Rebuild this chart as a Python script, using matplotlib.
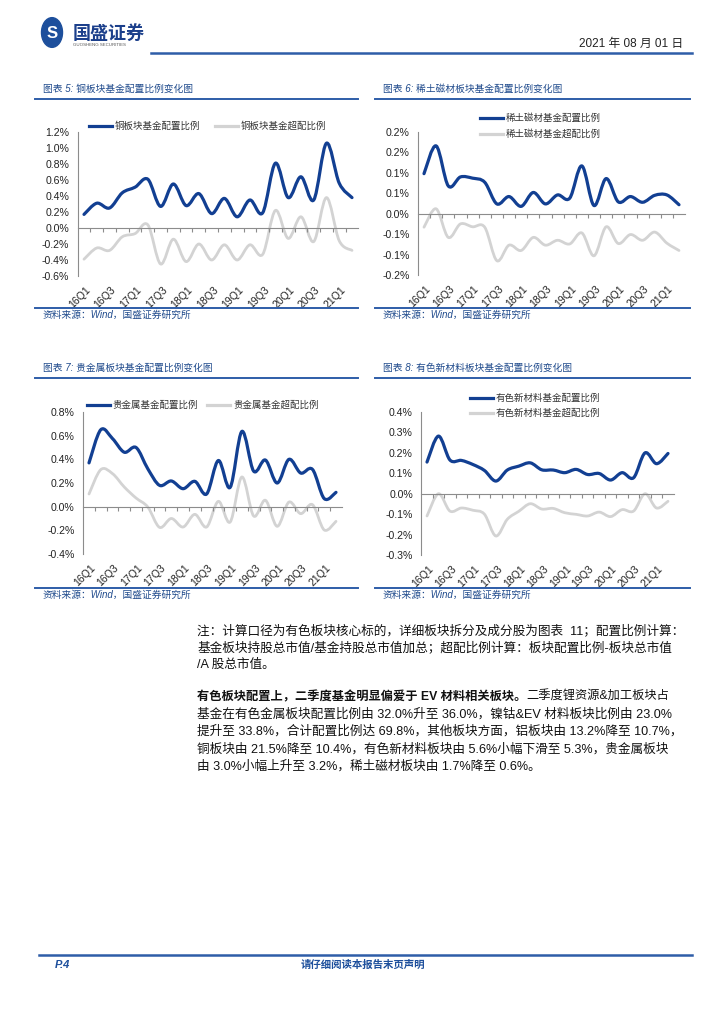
import numpy as np
import matplotlib
matplotlib.use("Agg")
import matplotlib.pyplot as plt
from matplotlib.path import Path
from matplotlib.patches import PathPatch, Circle
from matplotlib.lines import Line2D

plt.rcParams['font.family'] = ['Liberation Sans', 'Noto Sans CJK SC', 'DejaVu Sans']

## data (unit = %)
quarters = ['16Q1', '16Q2', '16Q3', '16Q4', '17Q1', '17Q2', '17Q3', '17Q4',
            '18Q1', '18Q2', '18Q3', '18Q4', '19Q1', '19Q2', '19Q3', '19Q4',
            '20Q1', '20Q2', '20Q3', '20Q4', '21Q1', '21Q2']

copper_alloc = [0.17, 0.31, 0.25, 0.44, 0.51, 0.61, 0.27, 0.55, 0.28, 0.43, 0.18,
                0.37, 0.14, 0.35, 0.19, 0.81, 0.38, 0.64, 0.35, 1.06, 0.56, 0.38]
copper_over = [-0.39, -0.25, -0.28, -0.11, -0.07, 0.04, -0.45, -0.14, -0.42, -0.20, -0.40,
               -0.21, -0.40, -0.21, -0.33, 0.22, -0.13, 0.14, -0.17, 0.38, -0.16, -0.28]

rare_alloc = [0.098, 0.166, 0.068, 0.090, 0.087, 0.077, 0.024, 0.042, 0.018, 0.052, 0.024,
              0.046, 0.038, 0.117, 0.020, 0.086, 0.029, 0.042, 0.028, 0.045, 0.046, 0.022]
rare_over = [-0.033, 0.012, -0.058, -0.025, -0.032, -0.033, -0.115, -0.077, -0.090, -0.058, -0.077,
             -0.065, -0.074, -0.047, -0.103, -0.032, -0.073, -0.051, -0.065, -0.045, -0.072, -0.090]

precious_alloc = [0.37, 0.65, 0.575, 0.46, 0.50, 0.32, 0.18, 0.217, 0.152, 0.214, 0.107,
                  0.39, 0.163, 0.636, 0.30, 0.394, 0.20, 0.40, 0.284, 0.315, 0.068, 0.121]
precious_over = [0.107, 0.313, 0.279, 0.166, 0.073, -0.003, -0.175, -0.10, -0.172, -0.065, -0.172,
                 0.045, -0.13, 0.251, -0.079, 0.054, -0.166, 0.039, -0.059, 0.017, -0.197, -0.124]

newmat_alloc = [0.155, 0.282, 0.165, 0.163, 0.143, 0.114, 0.062, 0.116, 0.135, 0.151, 0.117,
                0.116, 0.103, 0.119, 0.094, 0.099, 0.067, 0.103, 0.078, 0.200, 0.147, 0.197]
newmat_over = [-0.109, 0.0, -0.085, -0.070, -0.081, -0.100, -0.207, -0.125, -0.086, -0.049, -0.075,
               -0.072, -0.093, -0.101, -0.109, -0.090, -0.112, -0.078, -0.085, 0.0, -0.070, -0.037]

copper_ticks = [-0.6, -0.4, -0.2, 0.0, 0.2, 0.4, 0.6, 0.8, 1.0, 1.2]
rare_ticks = [-0.15, -0.10, -0.05, 0.0, 0.05, 0.10, 0.15, 0.20]
rare_ticklabels = ['-0.2%', '-0.1%', '-0.1%', '0.0%', '0.1%', '0.1%', '0.2%', '0.2%']
precious_ticks = [-0.4, -0.2, 0.0, 0.2, 0.4, 0.6, 0.8]
newmat_ticks = [-0.3, -0.2, -0.1, 0.0, 0.1, 0.2, 0.3, 0.4]

BLUE = '#123f92'
GRAY = '#d3d3d3'
NAVY = '#1f4a8c'
LINEBLUE = '#2e5da8'

W, H = 724, 1024
fig = plt.figure(figsize=(W / 100, H / 100), dpi=100)


def fx(x):
    return x / W


def fy(y):
    return 1 - y / H


def hline(x0, x1, y, color=LINEBLUE, lw=1.6):
    fig.add_artist(Line2D([fx(x0), fx(x1)], [fy(y), fy(y)], color=color, lw=lw,
                          transform=fig.transFigure))


def ftext(x, y, s, **kw):
    return fig.text(fx(x), fy(y), s, **kw)


def smooth_path(yv):
    # bezier through the points, like excel's smoothed line
    x = np.arange(len(yv), dtype=float)
    y = np.asarray(yv, dtype=float)
    n = len(y)
    verts = [(x[0], y[0])]
    codes = [Path.MOVETO]
    for i in range(n - 1):
        a, b, c, d = max(i - 1, 0), i, i + 1, min(i + 2, n - 1)
        c1 = (x[b] + (x[c] - x[a]) / 6, y[b] + (y[c] - y[a]) / 6)
        c2 = (x[c] - (x[d] - x[b]) / 6, y[c] - (y[d] - y[b]) / 6)
        verts += [c1, c2, (x[c], y[c])]
        codes += [Path.CURVE4] * 3
    return Path(verts, codes)


def chart(box, alloc, over, ticks, ticklabels=None):
    # box = (left px, right px, top px, bottom px), left/right = first/last point
    x0, x1, top, bot = box
    sp = (x1 - x0) / (len(quarters) - 1)
    left, right = x0 - 0.5 * sp, x1 + 0.5 * sp
    ax = fig.add_axes([fx(left), fy(bot), (right - left) / W, (bot - top) / H])
    ax.set_xlim(-0.5, len(quarters) - 0.5)
    ax.set_ylim(ticks[0], ticks[-1])
    ax.add_patch(PathPatch(smooth_path(over), fill=False, color=GRAY, lw=2.0,
                           capstyle='round', joinstyle='round'))
    ax.add_patch(PathPatch(smooth_path(alloc), fill=False, color=BLUE, lw=2.3,
                           capstyle='round', joinstyle='round'))
    for s in ['top', 'right']:
        ax.spines[s].set_visible(False)
    ax.spines['left'].set_color('#8c8c8c')
    ax.spines['left'].set_linewidth(0.8)
    ax.spines['bottom'].set_position(('data', 0))
    ax.spines['bottom'].set_color('#8c8c8c')
    ax.spines['bottom'].set_linewidth(0.8)
    ax.set_yticks(ticks)
    if ticklabels is None:
        ticklabels = ['%.1f%%' % t for t in ticks]
    ax.set_yticklabels(ticklabels)
    ax.tick_params(axis='y', length=0, pad=6, labelsize=7.6, colors='#222222')
    ax.set_xticks(np.arange(0.5, len(quarters) - 0.5, 1))
    ax.set_xticklabels([])
    ax.tick_params(axis='x', length=3, direction='out', color='#8c8c8c', width=0.8)
    for i in range(0, len(quarters), 2):
        ax.text(i + 0.1, -0.06, quarters[i], transform=ax.get_xaxis_transform(),
                rotation=45, rotation_mode='anchor', ha='right', va='top',
                fontsize=7.6, color='#222222')
    return ax


def legend_item(x, y, color, label):
    fig.add_artist(Line2D([fx(x), fx(x + 23)], [fy(y), fy(y)], color=color, lw=2.3,
                          transform=fig.transFigure))
    ftext(x + 26, y, label, fontsize=6.8, va='center', color='#333333')


def frame(xl, xr, ty, sy, title):
    ftext(xl + 8, ty, title, fontsize=7, va='center', color=NAVY, style='italic')
    hline(xl, xr, ty + 10, lw=1.4)
    hline(xl, xr, sy, lw=1.4)
    ftext(xl + 8, sy + 7, '资料来源：Wind，国盛证券研究所', fontsize=7, va='center',
          color=NAVY, style='italic')


## header
fig.add_artist(Circle((fx(52), fy(32.5)), 10.5 / W, transform=fig.transFigure,
                      color='#1d4f9c'))
ftext(52, 33, 'S', fontsize=12, fontweight='bold', color='white', ha='center', va='center')
ftext(73, 33, '国盛证券', fontsize=13, fontweight='bold', color='#1b3f8b', va='center',
      family=['Noto Sans CJK SC'])
ftext(73, 45.5, 'GUOSHENG SECURITIES', fontsize=3.2, color='#555555', va='center')
ftext(683, 44, '2021 年 08 月 01 日', fontsize=8.5, ha='right', va='center', color='#222222')
hline(151, 692, 53, lw=1.8)

## four charts
frame(35, 358, 89, 308, '图表 5: 铜板块基金配置比例变化图')
frame(375, 690, 89, 308, '图表 6: 稀土磁材板块基金配置比例变化图')
frame(35, 358, 368, 588, '图表 7: 贵金属板块基金配置比例变化图')
frame(375, 690, 368, 588, '图表 8: 有色新材料板块基金配置比例变化图')

chart((84, 352, 132, 276), copper_alloc, copper_over, copper_ticks)
chart((424, 679, 132, 275), rare_alloc, rare_over, rare_ticks, rare_ticklabels)
chart((89, 336, 412, 554), precious_alloc, precious_over, precious_ticks)
chart((427, 668, 412, 555), newmat_alloc, newmat_over, newmat_ticks)

legend_item(89, 126, BLUE, '铜板块基金配置比例')
legend_item(215, 126, GRAY, '铜板块基金超配比例')
legend_item(480, 118, BLUE, '稀土磁材基金配置比例')
legend_item(480, 134, GRAY, '稀土磁材基金超配比例')
legend_item(87, 405, BLUE, '贵金属基金配置比例')
legend_item(207, 405, GRAY, '贵金属基金超配比例')
legend_item(470, 398, BLUE, '有色新材料基金配置比例')
legend_item(470, 413, GRAY, '有色新材料基金超配比例')

## body text
body_font = ['Liberation Sans', 'Noto Sans CJK SC']
FS = 9.1
note_lines = [
    '注：计算口径为有色板块核心标的，详细板块拆分及成分股为图表  11；配置比例计算：',
    '基金板块持股总市值/基金持股总市值加总；超配比例计算：板块配置比例-板块总市值',
    '/A 股总市值。',
]
for k, s in enumerate(note_lines):
    ftext(197, 631 + 17 * k, s, fontsize=FS, va='center', family=body_font, color='#111111')

bold_part = '有色板块配置上，二季度基金明显偏爱于 EV 材料相关板块。'
para_lines = [
    '二季度锂资源&加工板块占',
    '基金在有色金属板块配置比例由 32.0%升至 36.0%，镍钴&EV 材料板块比例由 23.0%',
    '提升至 33.8%，合计配置比例达 69.8%，其他板块方面，铝板块由 13.2%降至 10.7%，',
    '铜板块由 21.5%降至 10.4%，有色新材料板块由 5.6%小幅下滑至 5.3%，贵金属板块',
    '由 3.0%小幅上升至 3.2%，稀土磁材板块由 1.7%降至 0.6%。',
]
tb = ftext(197, 697, bold_part, fontsize=8.8, va='center', family=body_font,
           fontweight='bold', color='#111111')
fig.canvas.draw()
bb = tb.get_window_extent()
ftext(bb.x1, 697, para_lines[0], fontsize=8.8, va='center', family=body_font,
      color='#111111')
for k, s in enumerate(para_lines[1:]):
    ftext(197, 714.5 + 17.3 * k, s, fontsize=FS, va='center', family=body_font,
          color='#111111')

## footer
hline(39, 692, 955, lw=1.8)
ftext(55, 965, 'P.4', fontsize=8, fontweight='bold', style='italic', color='#1d4f9c',
      va='center')
ftext(363, 965, '请仔细阅读本报告末页声明', fontsize=7.5, fontweight='bold', color='#1d4f9c',
      ha='center', va='center')

fig.savefig('out.png', dpi=100)
